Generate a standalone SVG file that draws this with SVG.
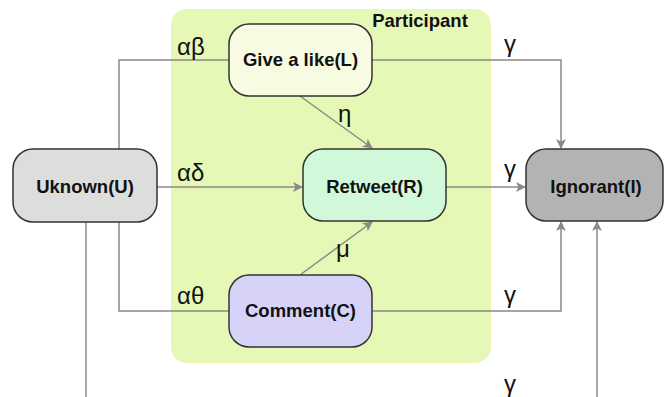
<svg xmlns="http://www.w3.org/2000/svg" width="665" height="397" viewBox="0 0 665 397">
<style>
.node{stroke:#333;stroke-width:1.5}
.lbl{font-family:"Liberation Sans",Arial,sans-serif;font-weight:bold;font-size:18.5px;fill:#111;text-anchor:middle}
.gk{font-family:"Liberation Sans",Arial,sans-serif;font-size:24px;fill:#111}
.c{fill:none;stroke:#8a8a84;stroke-width:1.5}
</style>
<defs>
<marker id="ah" viewBox="0 0 10 10" refX="9" refY="5" markerWidth="10" markerHeight="10" markerUnits="userSpaceOnUse" orient="auto">
<path d="M0,0 L10,5 L0,10 L2.5,5 Z" fill="#8a8a84"/>
</marker>
</defs>
<rect width="665" height="397" fill="#fff"/>
<g id="participant">
<rect x="171" y="9" width="320" height="354" rx="16" fill="#e5f8b6"/>
<text x="420" y="27" class="lbl">Participant</text>
</g>
<g id="connectors">
<polyline class="c" points="119,149 119,60 229,60"/>
<line class="c" x1="157" y1="187" x2="302" y2="187" marker-end="url(#ah)"/>
<polyline class="c" points="119,222 119,311 229,311"/>
<line class="c" x1="86" y1="222" x2="86" y2="397"/>
<polyline class="c" points="372,60 561,60 561,148" marker-end="url(#ah)"/>
<line class="c" x1="446" y1="187" x2="525" y2="187" marker-end="url(#ah)"/>
<polyline class="c" points="372,311 561,311 561,222" marker-end="url(#ah)"/>
<line class="c" x1="597" y1="397" x2="597" y2="222" marker-end="url(#ah)"/>
<line class="c" x1="300" y1="96" x2="372" y2="148" marker-end="url(#ah)"/>
<line class="c" x1="300" y1="275" x2="372" y2="222" marker-end="url(#ah)"/>
<text class="gk" x="177" y="55">αβ</text>
<text class="gk" x="177" y="181">αδ</text>
<text class="gk" x="177" y="304">αθ</text>
<text class="gk" x="338" y="122">η</text>
<text class="gk" x="336" y="257">μ</text>
<text class="gk" x="504" y="52">γ</text>
<text class="gk" x="504" y="177">γ</text>
<text class="gk" x="504" y="303">γ</text>
<text class="gk" x="504" y="392">γ</text>
</g>
<g id="like">
<rect class="node" x="229" y="24" width="143" height="72" rx="20" fill="#f6fbe2"/>
<text class="lbl" x="300.5" y="66">Give a like(L)</text>
</g>
<g id="unknown">
<rect class="node" x="13" y="149" width="144" height="73" rx="20" fill="#dddedc"/>
<text class="lbl" x="85" y="193">Uknown(U)</text>
</g>
<g id="retweet">
<rect class="node" x="303" y="149" width="143" height="72" rx="20" fill="#d1f8d9"/>
<text class="lbl" x="374.5" y="193">Retweet(R)</text>
</g>
<g id="ignorant">
<rect class="node" x="526" y="149" width="137" height="72" rx="20" fill="#b3b3b3"/>
<text class="lbl" x="596" y="193">Ignorant(I)</text>
</g>
<g id="comment">
<rect class="node" x="229" y="275" width="143" height="72" rx="20" fill="#d7d3f8"/>
<text class="lbl" x="300.5" y="317">Comment(C)</text>
</g>
</svg>
